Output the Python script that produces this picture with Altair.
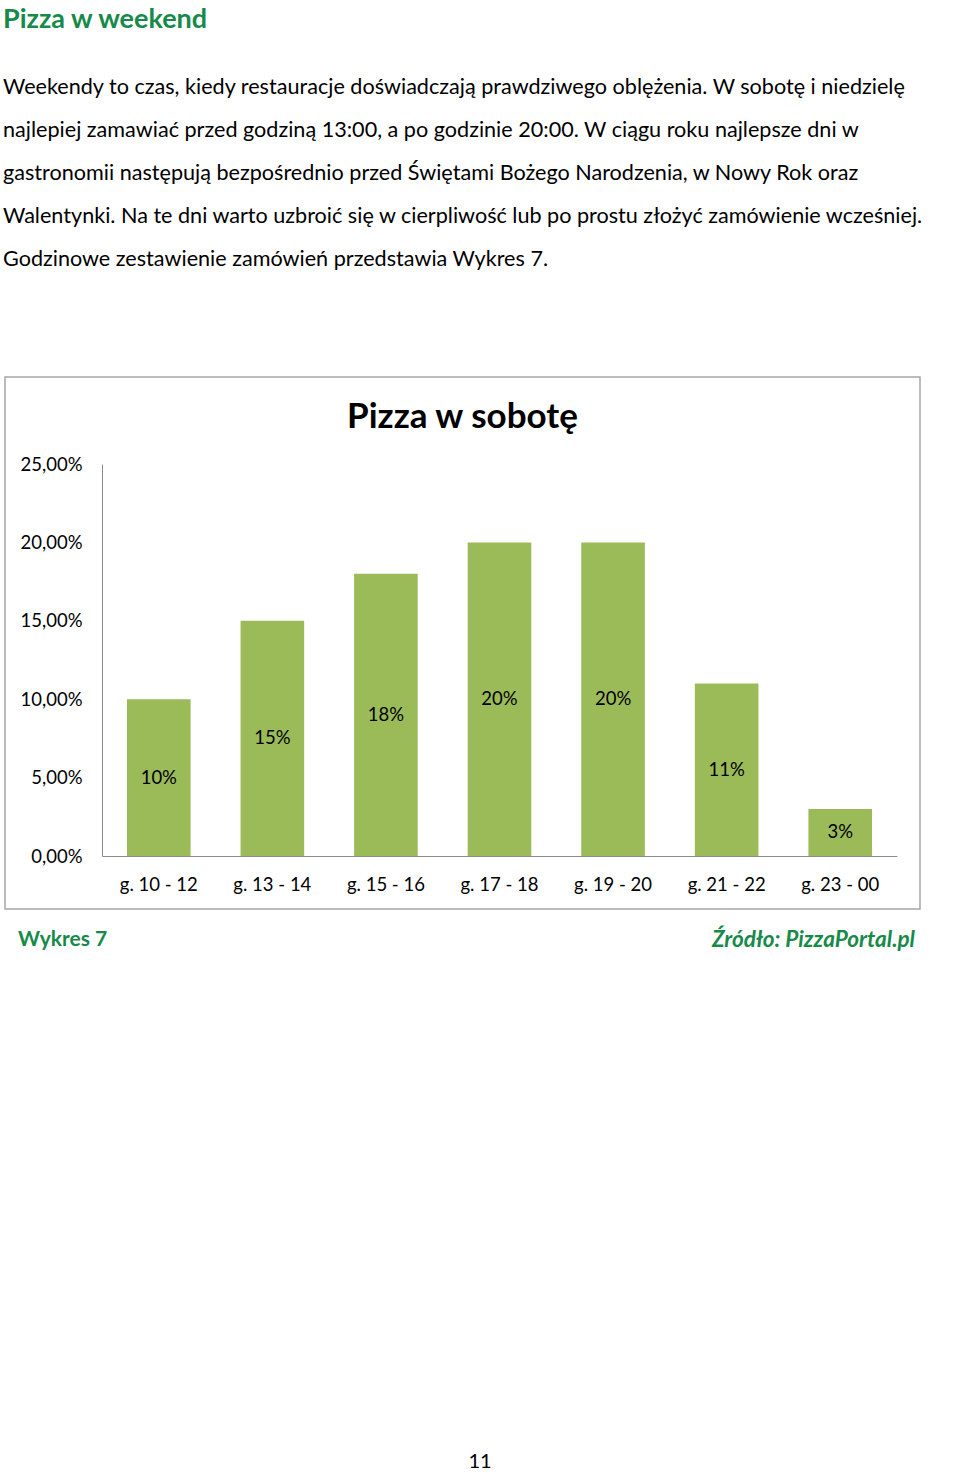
import altair as alt
import pandas as pd

# ---- data ----
hours = ["g. 10 - 12", "g. 13 - 14", "g. 15 - 16", "g. 17 - 18", "g. 19 - 20", "g. 21 - 22", "g. 23 - 00"]
shares = [10, 15, 18, 20, 20, 11, 3]
y_ticks = [0, 5, 10, 15, 20, 25]

page_title = "Pizza w weekend"
paragraph = [
    "Weekendy to czas, kiedy restauracje doświadczają prawdziwego oblężenia. W sobotę i niedzielę",
    "najlepiej zamawiać przed godziną 13:00, a po godzinie 20:00. W ciągu roku najlepsze dni w",
    "gastronomii następują bezpośrednio przed Świętami Bożego Narodzenia, w Nowy Rok oraz",
    "Walentynki. Na te dni warto uzbroić się w cierpliwość lub po prostu złożyć zamówienie wcześniej.",
    "Godzinowe zestawienie zamówień przedstawia Wykres 7.",
]
chart_title = "Pizza w sobotę"
caption_left = "Wykres 7"
caption_right = "Źródło: PizzaPortal.pl"
page_number = "11"

df = pd.DataFrame({"hour": hours, "value": shares})
one = pd.DataFrame({"k": [0]})

FONT = "Lato"
GREEN = "#178a4a"
BAR = "#9bbb59"
GRAY = "#8c8c8c"


def txt(text, x, y, size, color="black", weight="normal", style="normal", align="left"):
    return alt.Chart(one).mark_text(
        text=text, font=FONT, fontSize=size, color=color, fontWeight=weight,
        fontStyle=style, align=align, baseline="middle"
    ).encode(x=alt.value(x), y=alt.value(y))


x_enc = alt.X("hour:N", sort=hours,
              scale=alt.Scale(paddingInner=0.44, paddingOuter=0.22),
              axis=alt.Axis(title=None, labelAngle=0, ticks=False, domainColor=GRAY,
                            labelFont=FONT, labelFontSize=18.5, labelColor="black",
                            labelPadding=19))
y_enc = alt.Y("value:Q", scale=alt.Scale(domain=[0, 25], nice=False),
              axis=alt.Axis(title=None, values=y_ticks, grid=False, ticks=False,
                            domainColor=GRAY, labelFont=FONT, labelFontSize=18.5,
                            labelColor="black", labelPadding=20,
                            labelExpr="replace(format(datum.value, '.2f'), '.', ',') + '%'"))

bars = alt.Chart(df).mark_bar(color=BAR).encode(x=x_enc, y=y_enc)
bar_labels = alt.Chart(df).transform_calculate(
    mid="datum.value / 2", lab="datum.value + '%'"
).mark_text(font=FONT, fontSize=18.5, color="black", baseline="middle").encode(
    x=alt.X("hour:N", sort=hours), y=alt.Y("mid:Q"), text="lab:N"
)

box = alt.Chart(one).mark_rect(fill=None, stroke="#a6a6a6", strokeWidth=1.5).encode(
    x=alt.value(-97), x2=alt.value(818), y=alt.value(-87), y2=alt.value(445)
)

layers = [box, bars, bar_labels,
          txt(page_title, -99, -444, 27, color=GREEN, weight="bold"),
          txt(chart_title, 360.5, -47, 35, weight="bold", align="center"),
          txt(caption_left, -84, 476, 21, color=GREEN, weight="bold"),
          txt(caption_right, 813, 476, 22.5, color=GREEN, weight="bold", style="italic", align="right"),
          txt(page_number, 378, 998, 20, align="center")]
for i, line in enumerate(paragraph):
    layers.append(txt(line, -99, -376 + 43 * i, 21.6))

chart = alt.layer(*layers).properties(
    width=795, height=392,
    autosize=alt.AutoSizeParams(type="none"),
    padding={"left": 102, "top": 464, "right": 63, "bottom": 617},
    background="white",
).configure_view(stroke=None)

chart.save("out.html", embed_options={"renderer": "svg", "actions": False})
